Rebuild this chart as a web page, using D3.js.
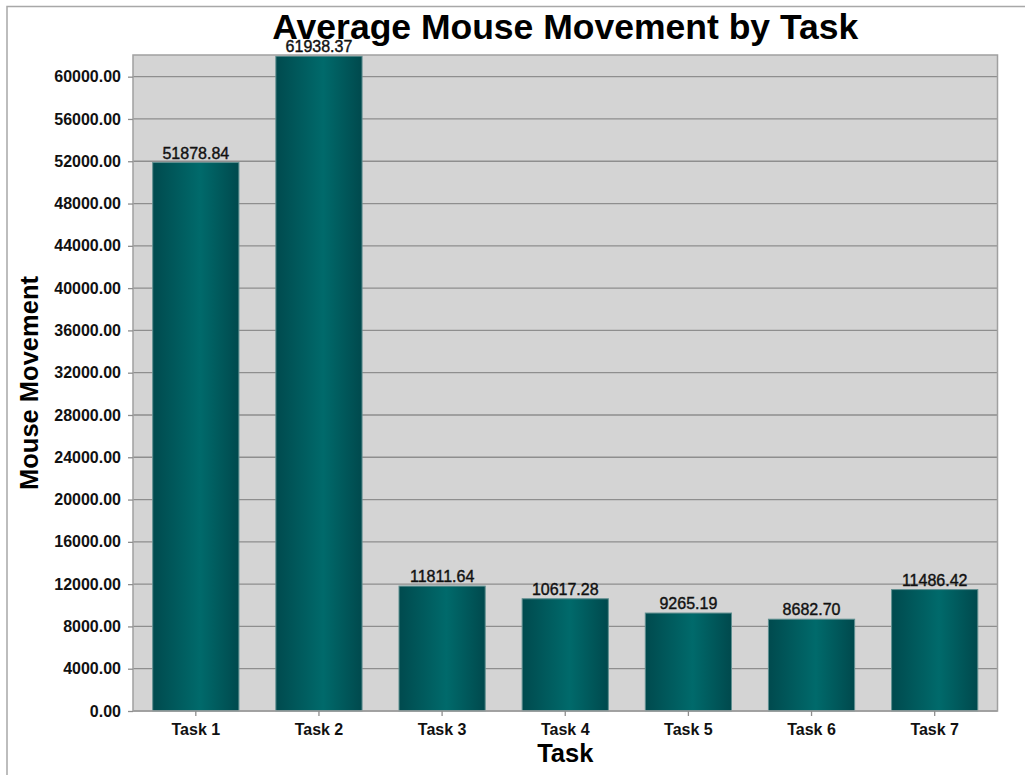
<!DOCTYPE html>
<html><head><meta charset="utf-8">
<script src="https://cdn.jsdelivr.net/npm/d3@7"></script>
<style>body{margin:0;background:#fff;}svg{display:block;font-family:"Liberation Sans",Arial,sans-serif;}</style>
</head><body>
<svg id="chart" width="1025" height="775"></svg>
<script>
const categories = ["Task 1","Task 2","Task 3","Task 4","Task 5","Task 6","Task 7"];
const values = [51878.84, 61938.37, 11811.64, 10617.28, 9265.19, 8682.70, 11486.42];
const yTicks = [0,4000,8000,12000,16000,20000,24000,28000,32000,36000,40000,44000,48000,52000,56000,60000];
const title = "Average Mouse Movement by Task";
const xTitle = "Task";
const yTitle = "Mouse Movement";

const svg = d3.select("#chart");
const m = {left:133, top:55, right:997.5, bottom:711};

// outer frame
svg.append("rect").attr("x",7).attr("y",6.5).attr("width",1030).attr("height",800)
  .attr("fill","#fff").attr("stroke","#a8a8a8").attr("stroke-width",1.5);

const x = d3.scaleBand().domain(categories).range([m.left,m.right]).paddingInner(0.3).paddingOuter(0.16);
const y = d3.scaleLinear().domain([0,62050]).range([m.bottom,m.top]);

const defs = svg.append("defs");
const g = defs.append("linearGradient").attr("id","barGrad").attr("x1","0").attr("x2","1").attr("y1","0").attr("y2","0");
g.append("stop").attr("offset","0%").attr("stop-color","#004a4e");
g.append("stop").attr("offset","55%").attr("stop-color","#006a6b");
g.append("stop").attr("offset","100%").attr("stop-color","#00494d");

svg.append("rect").attr("x",m.left).attr("y",m.top).attr("width",m.right-m.left).attr("height",m.bottom-m.top)
  .attr("fill","#d4d4d4");

svg.append("g").selectAll("line").data(yTicks).join("line")
  .attr("x1",m.left).attr("x2",m.right).attr("y1",d=>y(d)).attr("y2",d=>y(d))
  .attr("stroke","#8e8e8e").attr("stroke-width",1.3);

svg.append("g").selectAll("rect").data(values).join("rect")
  .attr("x",(d,i)=>x(categories[i])).attr("width",x.bandwidth())
  .attr("y",d=>y(d)).attr("height",d=>y(0)-y(d))
  .attr("fill","url(#barGrad)").attr("stroke","#5f8f90").attr("stroke-width",1);

svg.append("rect").attr("x",m.left).attr("y",m.top).attr("width",m.right-m.left).attr("height",m.bottom-m.top)
  .attr("fill","none").attr("stroke","#a0a0a0").attr("stroke-width",1.5);

// y axis
const yAxis = d3.axisLeft(y).tickValues(yTicks).tickFormat(d3.format(".2f")).tickSize(5).tickPadding(7);
const ya = svg.append("g").attr("transform",`translate(${m.left},0)`).call(yAxis);
ya.select(".domain").remove();
ya.selectAll("line").attr("stroke","#8e8e8e").attr("stroke-width",1.3);
ya.selectAll("text").attr("font-size",16).attr("font-weight","bold").attr("fill","#111")
  .attr("font-family","'Liberation Sans',Arial,sans-serif");

// x axis
const xAxis = d3.axisBottom(x).tickSize(5).tickPadding(8);
const xa = svg.append("g").attr("transform",`translate(0,${m.bottom})`).call(xAxis);
xa.select(".domain").remove();
xa.selectAll("line").attr("stroke","#8e8e8e").attr("stroke-width",1.3);
xa.selectAll("text").attr("font-size",16).attr("font-weight","bold").attr("fill","#111")
  .attr("font-family","'Liberation Sans',Arial,sans-serif");

// value labels
svg.append("g").selectAll("text").data(values).join("text")
  .attr("x",(d,i)=>x(categories[i])+x.bandwidth()/2).attr("y",d=>y(d)-4)
  .attr("text-anchor","middle").attr("font-size",16).attr("fill","#111")
  .attr("stroke","#111").attr("stroke-width",0.4)
  .text(d=>d3.format(".2f")(d));

svg.append("text").attr("x",(m.left+m.right)/2).attr("y",39).attr("text-anchor","middle")
  .attr("font-size",35.5).attr("font-weight","bold").attr("fill","#000").text(title);
svg.append("text").attr("x",(m.left+m.right)/2).attr("y",762).attr("text-anchor","middle")
  .attr("font-size",25.5).attr("font-weight","bold").attr("fill","#000").text(xTitle);
svg.append("text").attr("transform",`translate(38,${(m.top+m.bottom)/2}) rotate(-90)`).attr("text-anchor","middle")
  .attr("font-size",25.5).attr("font-weight","bold").attr("fill","#000").text(yTitle);
</script>
</body></html>
